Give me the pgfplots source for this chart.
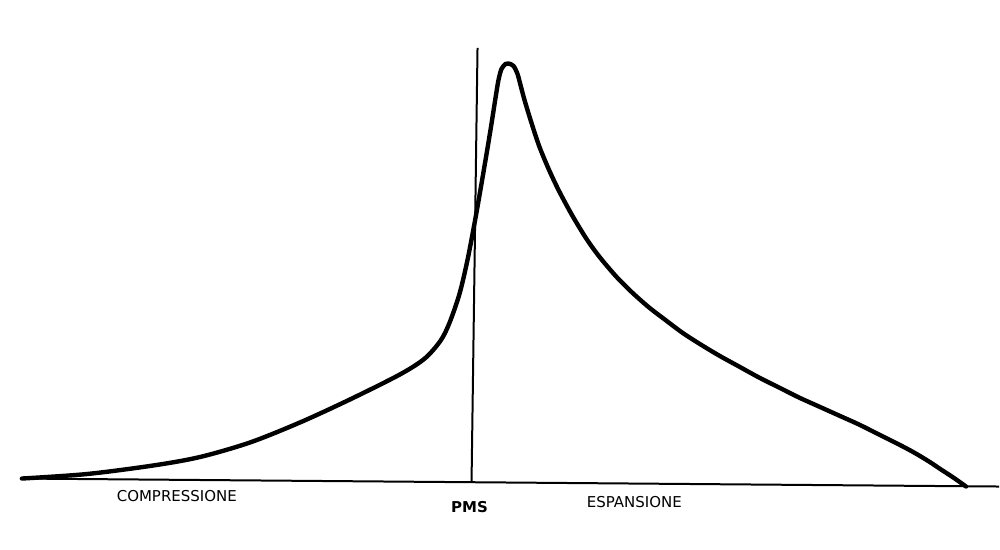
\documentclass[border=0pt]{standalone}
\usepackage{pgfplots}
\pgfplotsset{compat=1.18}
\usepackage{fontspec}
\setmainfont{DejaVu Sans}
\begin{document}
\begin{tikzpicture}
\begin{axis}[width=1000pt,height=550pt,scale only axis,
  xmin=0,xmax=1000,ymin=0,ymax=550,hide axis,clip=false,
  y dir=reverse]
\addplot[draw=none] coordinates {(0,0) (1000,550)};
% baseline
\addplot[black,line width=2pt] coordinates {(20,479) (1000,487)};
% PMS vertical
\addplot[black,line width=2pt] coordinates {(478,48) (472,483)};
% pressure curve
\addplot[black,line width=4.4pt,smooth,tension=0.5,line cap=round,line join=round] coordinates {
(22,479) (87,474.5) (153,466) (200,457.5) (250,443) (300,423) (350,400) (400,375)
(425,359) (441,341) (450,323) (460,294) (468,260) (476,218) (484,172) (491,130)
(496,98) (499,80) (502,69) (506,64) (509,63.5) (514,66) (518,74) (521,85)
(525,100) (532,123) (540,147) (550,171) (560,192) (573,216) (587,239) (600,257)
(617,277) (633,293) (650,308) (667,321) (683,333) (700,344) (720,356) (740,367)
(760,378) (780,388) (800,398) (820,407) (840,416) (860,425) (880,435) (900,445)
(915,453) (930,462) (942,470) (955,478.5) (967,487)};
\node[font=\fontsize{15}{18}\selectfont] at (axis cs:177,497) {COMPRESSIONE};
\node[font=\fontsize{15}{18}\selectfont\bfseries] at (axis cs:470,508) {PMS};
\node[font=\fontsize{15}{18}\selectfont] at (axis cs:635,503) {ESPANSIONE};
\end{axis}
\end{tikzpicture}
\end{document}
